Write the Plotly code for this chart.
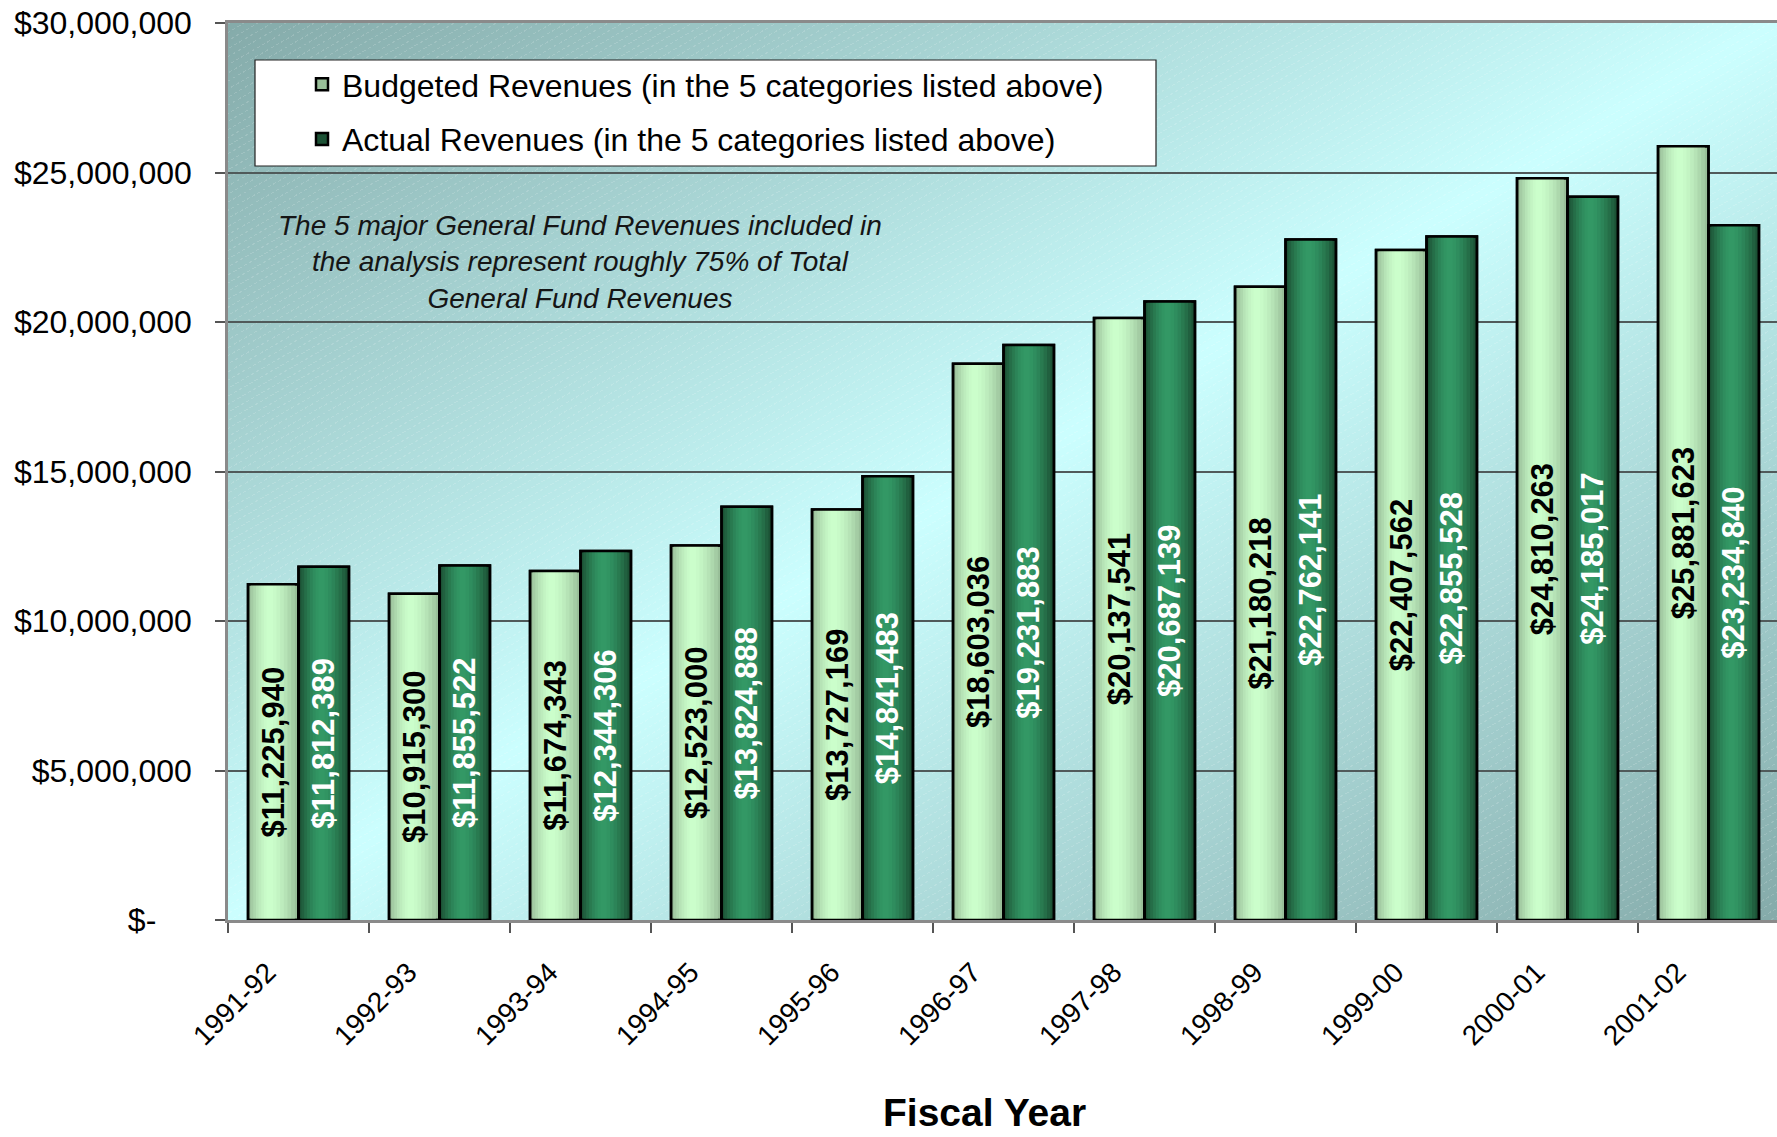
import base64
import struct
import zlib

import numpy as np
import plotly.graph_objects as go

# ---------------- data ----------------
categories = ["1991-92", "1992-93", "1993-94", "1994-95", "1995-96", "1996-97",
              "1997-98", "1998-99", "1999-00", "2000-01", "2001-02"]
budgeted = [11225940, 10915300, 11674343, 12523000, 13727169, 18603036,
            20137541, 21180218, 22407562, 24810263, 25881623]
actual = [11812389, 11855522, 12344306, 13824888, 14841483, 19231883,
          20687139, 22762141, 22855528, 24185017, 23234840]
y_tick_vals = [0, 5000000, 10000000, 15000000, 20000000, 25000000, 30000000]
y_tick_text = ["$-\u00a0\u00a0\u00a0\u00a0", "$5,000,000", "$10,000,000", "$15,000,000",
               "$20,000,000", "$25,000,000", "$30,000,000"]
budget_name = "Budgeted Revenues (in the 5 categories listed above)"
actual_name = "Actual Revenues (in the 5 categories listed above)"
note_text = ("The 5 major General Fund Revenues included in<br>"
             "the analysis represent roughly 75% of Total<br>"
             "General Fund Revenues")
x_title = "Fiscal Year"

FONT = "Liberation Sans, Arial, Helvetica, sans-serif"

# ---------------- plot-area background (diagonal gradient + faint hatch) ----------------
W, H = 1549, 897


def png_data_uri(rgb):
    h, w, _ = rgb.shape
    raw = b"".join(b"\x00" + rgb[i].tobytes() for i in range(h))

    def chunk(tag, data):
        c = struct.pack(">I", len(data)) + tag + data
        return c + struct.pack(">I", zlib.crc32(tag + data) & 0xFFFFFFFF)

    png = (b"\x89PNG\r\n\x1a\n"
           + chunk(b"IHDR", struct.pack(">IIBBBBB", w, h, 8, 2, 0, 0, 0))
           + chunk(b"IDAT", zlib.compress(raw, 9))
           + chunk(b"IEND", b""))
    return "data:image/png;base64," + base64.b64encode(png).decode()


yy, xx = np.mgrid[0:H, 0:W].astype(float)
t = (xx / (W - 1) + yy / (H - 1)) / 2.0
f = 1.0 - np.abs(2.0 * t - 1.0)
dark = np.array([133.0, 171.0, 170.0])
light = np.array([204.0, 255.0, 255.0])
img = dark + (light - dark) * f[..., None]
dperp = xx * 0.5 + yy * 0.866
along = xx * 0.866 - yy * 0.5
hatch = (np.mod(dperp, 7.0) < 1.0) & (np.mod(along, 6.0) < 3.5)
img = np.where(hatch[..., None], img * 0.85 + 255 * 0.15, img)
bg_uri = png_data_uri(np.clip(img, 0, 255).astype(np.uint8))

# ---------------- figure ----------------
fig = go.Figure()

BAR_W = 0.358
N_LAYERS = 8


def mix(c1, c2, w):
    return "rgb(%d,%d,%d)" % tuple(round(a + (b - a) * w) for a, b in zip(c1, c2))


def add_fill(name, values, x_off, edge, center, peak, group):
    for k in range(N_LAYERS):
        s = k / N_LAYERS
        a = peak * s
        b = 1 - (1 - peak) * s
        d = 1 - (k + 0.5) / N_LAYERS
        w = 1 - d ** 1.6
        fig.add_trace(go.Bar(
            x=categories, y=values, name=name, legendgroup=group,
            showlegend=(k == 0),
            offset=x_off + a * BAR_W, width=(b - a) * BAR_W,
            marker=dict(color=mix(edge, center, w),
                        line=dict(color="black", width=2.5 if k == 0 else 0)),
            hoverinfo="skip",
        ))


def add_outline(name, values, x_off, text_color, group):
    fig.add_trace(go.Bar(
        x=categories, y=values, name=name, legendgroup=group, showlegend=False,
        offset=x_off, width=BAR_W,
        marker=dict(color="rgba(0,0,0,0)", line=dict(color="black", width=2.5)),
        text=["${:,.0f}".format(v) for v in values],
        textposition="inside", insidetextanchor="middle", textangle=-90,
        insidetextfont=dict(family=FONT, size=31, color=text_color, weight="bold"),
        hovertemplate="%{x}: %{text}<extra>" + name + "</extra>",
    ))


add_fill(budget_name, budgeted, -BAR_W, (148, 184, 148), (204, 255, 204), 0.42, "b")
add_fill(actual_name, actual, 0.0, (26, 74, 48), (51, 153, 102), 0.45, "a")
add_outline(budget_name, budgeted, -BAR_W, "black", "b")
add_outline(actual_name, actual, 0.0, "white", "a")

# plot area on screen: x 228..1777, y 23..920
PL, PT = 228, 23
x_px = lambda px: (px - PL) / W
y_px = lambda py: 1 - (py - PT) / H

fig.update_layout(
    template="none",
    width=1777, height=1137,
    margin=dict(l=PL, r=0, t=PT, b=1137 - PT - H, pad=0),
    paper_bgcolor="white",
    plot_bgcolor="#ccffff",
    barmode="overlay",
    font=dict(family=FONT, color="black"),
    uniformtext=dict(minsize=31, mode="show"),
    showlegend=True,
    legend=dict(
        x=x_px(302), xanchor="left", y=y_px(57), yanchor="top",
        bgcolor="rgba(0,0,0,0)", borderwidth=0,
        font=dict(family=FONT, size=32, color="black"),
        tracegroupgap=10, traceorder="grouped",
    ),
    images=[dict(source=bg_uri, xref="paper", yref="paper", x=0, y=1,
                 sizex=1, sizey=1, xanchor="left", yanchor="top",
                 sizing="stretch", layer="below")],
    shapes=[dict(type="rect", xref="paper", yref="paper",
                 x0=x_px(255), x1=x_px(1156), y0=y_px(166), y1=y_px(60),
                 fillcolor="white", line=dict(color="#222222", width=1.2),
                 layer="above")],
    annotations=[
        dict(text=note_text, xref="paper", yref="paper",
             x=x_px(580), y=y_px(262), xanchor="center", yanchor="middle",
             showarrow=False, align="center",
             font=dict(family=FONT, size=28, color="#151515", style="italic")),
        dict(text=x_title, xref="paper", yref="paper",
             x=x_px(984), y=y_px(1112), xanchor="center", yanchor="middle",
             showarrow=False,
             font=dict(family=FONT, size=39, color="black", weight="bold")),
    ],
)

fig.update_xaxes(
    type="category", range=[-0.5, -0.5 + W / 141.0],
    tickson="boundaries", ticks="outside", ticklen=10, tickwidth=1.5, tickcolor="#555555",
    tickangle=-45, tickfont=dict(family=FONT, size=28, color="black"),
    ticklabelshift=-31, ticklabelstandoff=22,
    showline=True, mirror=True, linecolor="#8a8a8a", linewidth=2.5,
    showgrid=False, zeroline=False, automargin=False,
)
fig.update_yaxes(
    range=[0, 30000000], tickmode="array", tickvals=y_tick_vals, ticktext=y_tick_text,
    ticks="outside", ticklen=10, tickwidth=1.5, tickcolor="#555555",
    tickfont=dict(family=FONT, size=32, color="black"), ticklabelstandoff=17,
    ticklabeloverflow="allow",
    showline=True, linecolor="#8a8a8a", linewidth=2.5,
    showgrid=True, gridcolor="#505a5a", gridwidth=1.5, zeroline=False, automargin=False,
)

fig.write_html("out.html",
               config={"displayModeBar": False},
               post_script="document.body.style.margin='0';document.body.style.overflow='hidden';")
